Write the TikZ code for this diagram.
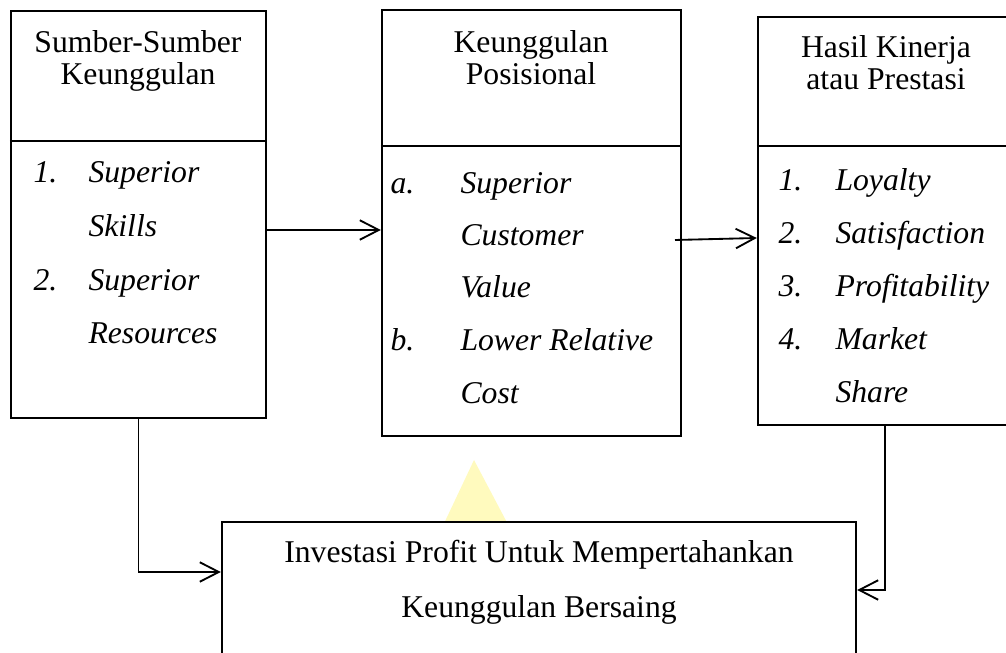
\documentclass[tikz,border=0pt]{standalone}
\usepackage{fontspec}
\setmainfont{Liberation Serif}
\usetikzlibrary{arrows.meta,fit}
\definecolor{wmyellow}{RGB}{255,250,190}
\begin{document}
\begin{tikzpicture}[x=0.3788pt,y=-0.3788pt,
  box/.style={draw, line width=0.9pt, inner sep=0pt, fill=white},
  hd/.style={font=\fontsize{12}{14}\selectfont, anchor=base, inner sep=0pt},
  num/.style={font=\fontsize{12}{14}\selectfont\itshape, anchor=base west, inner sep=0pt},
  arr/.style={-{Straight Barb[length=7.2pt,width=7.4pt]}, line width=0.7pt}]
\useasboundingbox (0,0) rectangle (1006,653);
% watermark
\fill[wmyellow] (474,460) -- (440,532) -- (512,532) -- cycle;
% boxes
\node[box, fit={(11,11) (266,418)}] (b1) {};
\node[box, fit={(382,10) (681,436)}] (b2) {};
\node[box, fit={(758,17) (1014,425)}] (b3) {};
\node[box, fit={(222,522) (856,680)}] (b4) {};
\draw[line width=0.9pt] (b1.west |- 0,141) -- (b1.east |- 0,141);
\draw[line width=0.9pt] (b2.west |- 0,146) -- (b2.east |- 0,146);
\draw[line width=0.9pt] (b3.west |- 0,146) -- (b3.east |- 0,146);
% box 1 text
\node[hd] (t1a) at (138,53) {Sumber-Sumber};
\node[hd] (t1b) at (138,85) {Keunggulan};
\node[num] (n11) at (33,183) {1.};
\node[num] (i11) at (88,183) {Superior};
\node[num] (i12) at (88,237) {Skills};
\node[num] (n12) at (33,291) {2.};
\node[num] (i13) at (88,291) {Superior};
\node[num] (i14) at (88,344) {Resources};
% box 2 text
\node[hd] (t2a) at (531,53) {Keunggulan};
\node[hd] (t2b) at (531,85) {Posisional};
\node[num] (n21) at (390,194) {a.};
\node[num] (i21) at (460,194) {Superior};
\node[num] (i22) at (460,246) {Customer};
\node[num] (i23) at (460,298) {Value};
\node[num] (n22) at (390,351) {b.};
\node[num] (i24) at (460,351) {Lower Relative};
\node[num] (i25) at (460,404) {Cost};
% box 3 text
\node[hd] (t3a) at (886,58) {Hasil Kinerja};
\node[hd] (t3b) at (886,90) {atau Prestasi};
\node[num] (n31) at (778,191) {1.};
\node[num] (i31) at (835,191) {Loyalty};
\node[num] (n32) at (778,244) {2.};
\node[num] (i32) at (835,244) {Satisfaction};
\node[num] (n33) at (778,297) {3.};
\node[num] (i33) at (835,297) {Profitability};
\node[num] (n34) at (778,350) {4.};
\node[num] (i34) at (835,350) {Market};
\node[num] (i35) at (835,403) {Share};
% box 4 text
\node[hd] (t4a) at (539,562) {Investasi Profit Untuk Mempertahankan};
\node[hd] (t4b) at (539,617) {Keunggulan Bersaing};
% connectors
\coordinate (c23) at (675,240);
\draw[arr] (b1.east |- 0,230) -- (b2.west |- 0,230);
\draw[arr] (c23) -- (b3.west |- 0,238);
\draw[arr] (b1.south) |- (b4.west |- 0,572);
\draw[arr] (b3.south -| 885,0) |- (b4.east |- 0,590);
\end{tikzpicture}
\end{document}
